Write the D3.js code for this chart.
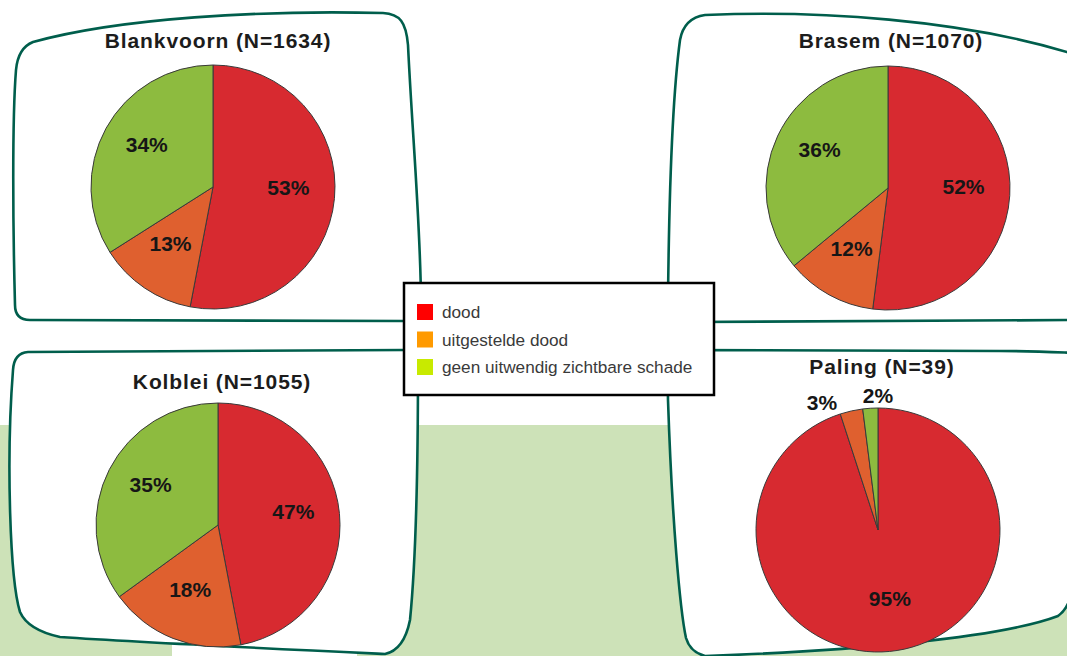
<!DOCTYPE html>
<html>
<head>
<meta charset="utf-8">
<script src="https://cdn.jsdelivr.net/npm/d3@7"></script>
<style>
  html, body { margin: 0; padding: 0; background: #ffffff; }
  svg { display: block; }
</style>
</head>
<body>
<svg id="chart" width="1067" height="656"></svg>
<script>
// Fish damage categories and per-species shares (%)
const categories = ["dood", "uitgestelde dood", "geen uitwendig zichtbare schade"];
const species = ["Blankvoorn", "Brasem", "Kolblei", "Paling"];
const sampleSizes = [1634, 1070, 1055, 39];
const dood = [53, 52, 47, 95];
const uitgesteldeDood = [13, 12, 18, 3];
const geenSchade = [34, 36, 35, 2];

// Colours
const sliceColors = ["#d72a30", "#df602f", "#8dbb3f"];
const legendColors = ["#ff0000", "#ff9a00", "#c8ea00"];
const frameColor = "#005e4c";

// Layout of the four panels
const panels = [
  { cx: 213, cy: 187, tx: 218, ty: 48,
    outline: "M 33,42 C 120,18 260,10 383,13 C 400,14 406,22 408,45 C 412,130 421,230 421,305 Q 421,322 405,321 L 30,320 Q 15,320 15,305 C 13,230 12,120 16,70 Q 18,48 33,42 Z" },
  { cx: 888, cy: 188, tx: 891, ty: 48,
    outline: "M 690,322 Q 668,322 668,300 C 669,200 672,100 680,40 Q 684,18 705,15 C 820,10 960,20 1067,52 L 1080,60 L 1080,320 Z" },
  { cx: 218, cy: 525, tx: 222, ty: 389,
    outline: "M 28,352 L 405,350 Q 418,350 418,365 C 418,450 416,560 410,620 Q 404,650 385,654 C 300,650 150,643 60,637 Q 28,630 20,612 C 10,580 6,460 13,370 Q 14,353 28,352 Z" },
  { cx: 878, cy: 530, tx: 882, ty: 374,
    outline: "M 690,350 L 1000,351 C 1040,351 1070,353 1078,353 L 1078,560 C 1074,590 1070,608 1058,616 C 1000,638 850,651 705,656 Q 690,652 686,638 C 680,610 672,520 668,400 Q 667,352 690,350 Z" }
];
const radius = 122;

const svg = d3.select("#chart");

// Background: white top, pale green lower band
svg.append("rect").attr("x", 0).attr("y", 0).attr("width", 1067).attr("height", 656).attr("fill", "#ffffff");
svg.append("rect").attr("x", 0).attr("y", 425).attr("width", 1067).attr("height", 231).attr("fill", "#cde2b8");
// white backing of the lower-left chart image, showing under its frame
svg.append("rect").attr("x", 172).attr("y", 600).attr("width", 185).attr("height", 56).attr("fill", "#ffffff");

const pie = d3.pie().sort(null).value(d => d.value);
const arc = d3.arc().innerRadius(0).outerRadius(radius);
const labelArc = d3.arc().innerRadius(radius * 0.62).outerRadius(radius * 0.62);

species.forEach((name, i) => {
  const p = panels[i];
  const values = [dood[i], uitgesteldeDood[i], geenSchade[i]].map((v, k) => ({ key: categories[k], value: v, k }));

  const g = svg.append("g");
  g.append("path")
    .attr("d", p.outline)
    .attr("fill", "#ffffff")
    .attr("stroke", frameColor)
    .attr("stroke-width", 2.6)
    .attr("stroke-linejoin", "round");

  g.append("text")
    .attr("x", p.tx).attr("y", p.ty)
    .attr("text-anchor", "middle")
    .attr("font-family", "'Liberation Sans', Arial, sans-serif")
    .attr("font-weight", "bold")
    .attr("font-size", 21)
    .attr("letter-spacing", "0.9px")
    .attr("fill", "#1c1c1c")
    .text(`${name} (N=${sampleSizes[i]})`);

  const arcs = pie(values);
  const pg = g.append("g").attr("transform", `translate(${p.cx},${p.cy})`);

  pg.selectAll("path.slice")
    .data(arcs)
    .join("path")
    .attr("class", "slice")
    .attr("d", arc)
    .attr("fill", d => sliceColors[d.data.k])
    .attr("stroke", "#3a3a3a")
    .attr("stroke-width", 1);

  const last = arcs.length - 1;
  pg.selectAll("text.pct")
    .data(arcs)
    .join("text")
    .attr("class", "pct")
    .attr("font-family", "'Liberation Sans', Arial, sans-serif")
    .attr("font-weight", "bold")
    .attr("font-size", 21)
    .attr("fill", "#161616")
    .attr("dy", "0.35em")
    .each(function (d) {
      const t = d3.select(this);
      const small = (d.endAngle - d.startAngle) < 0.4;
      if (small) {
        // thin slices get their label just outside the rim
        const a = d.index === last ? d.endAngle : d.startAngle;
        const rr = radius + 10;
        t.attr("x", Math.sin(a) * rr)
         .attr("y", -Math.cos(a) * rr - 2)
         .attr("text-anchor", d.index === last ? "middle" : "end");
      } else {
        const [x, y] = labelArc.centroid(d);
        t.attr("x", x).attr("y", y - 6).attr("text-anchor", "middle");
      }
    })
    .text(d => `${d.data.value}%`);
});

// Legend
const legend = svg.append("g");
legend.append("rect")
  .attr("x", 404).attr("y", 283).attr("width", 310).attr("height", 112)
  .attr("fill", "#ffffff").attr("stroke", "#000000").attr("stroke-width", 2.5);

const items = legend.selectAll("g.item")
  .data(categories)
  .join("g")
  .attr("class", "item")
  .attr("transform", (d, i) => `translate(417,${304 + i * 27.5})`);

items.append("rect")
  .attr("width", 16).attr("height", 16)
  .attr("fill", (d, i) => legendColors[i]);

items.append("text")
  .attr("x", 25).attr("y", 8)
  .attr("dy", "0.35em")
  .attr("font-family", "'Liberation Sans', Arial, sans-serif")
  .attr("font-size", 17.2)
  .attr("fill", "#3a3a3a")
  .text(d => d);
</script>
</body>
</html>
